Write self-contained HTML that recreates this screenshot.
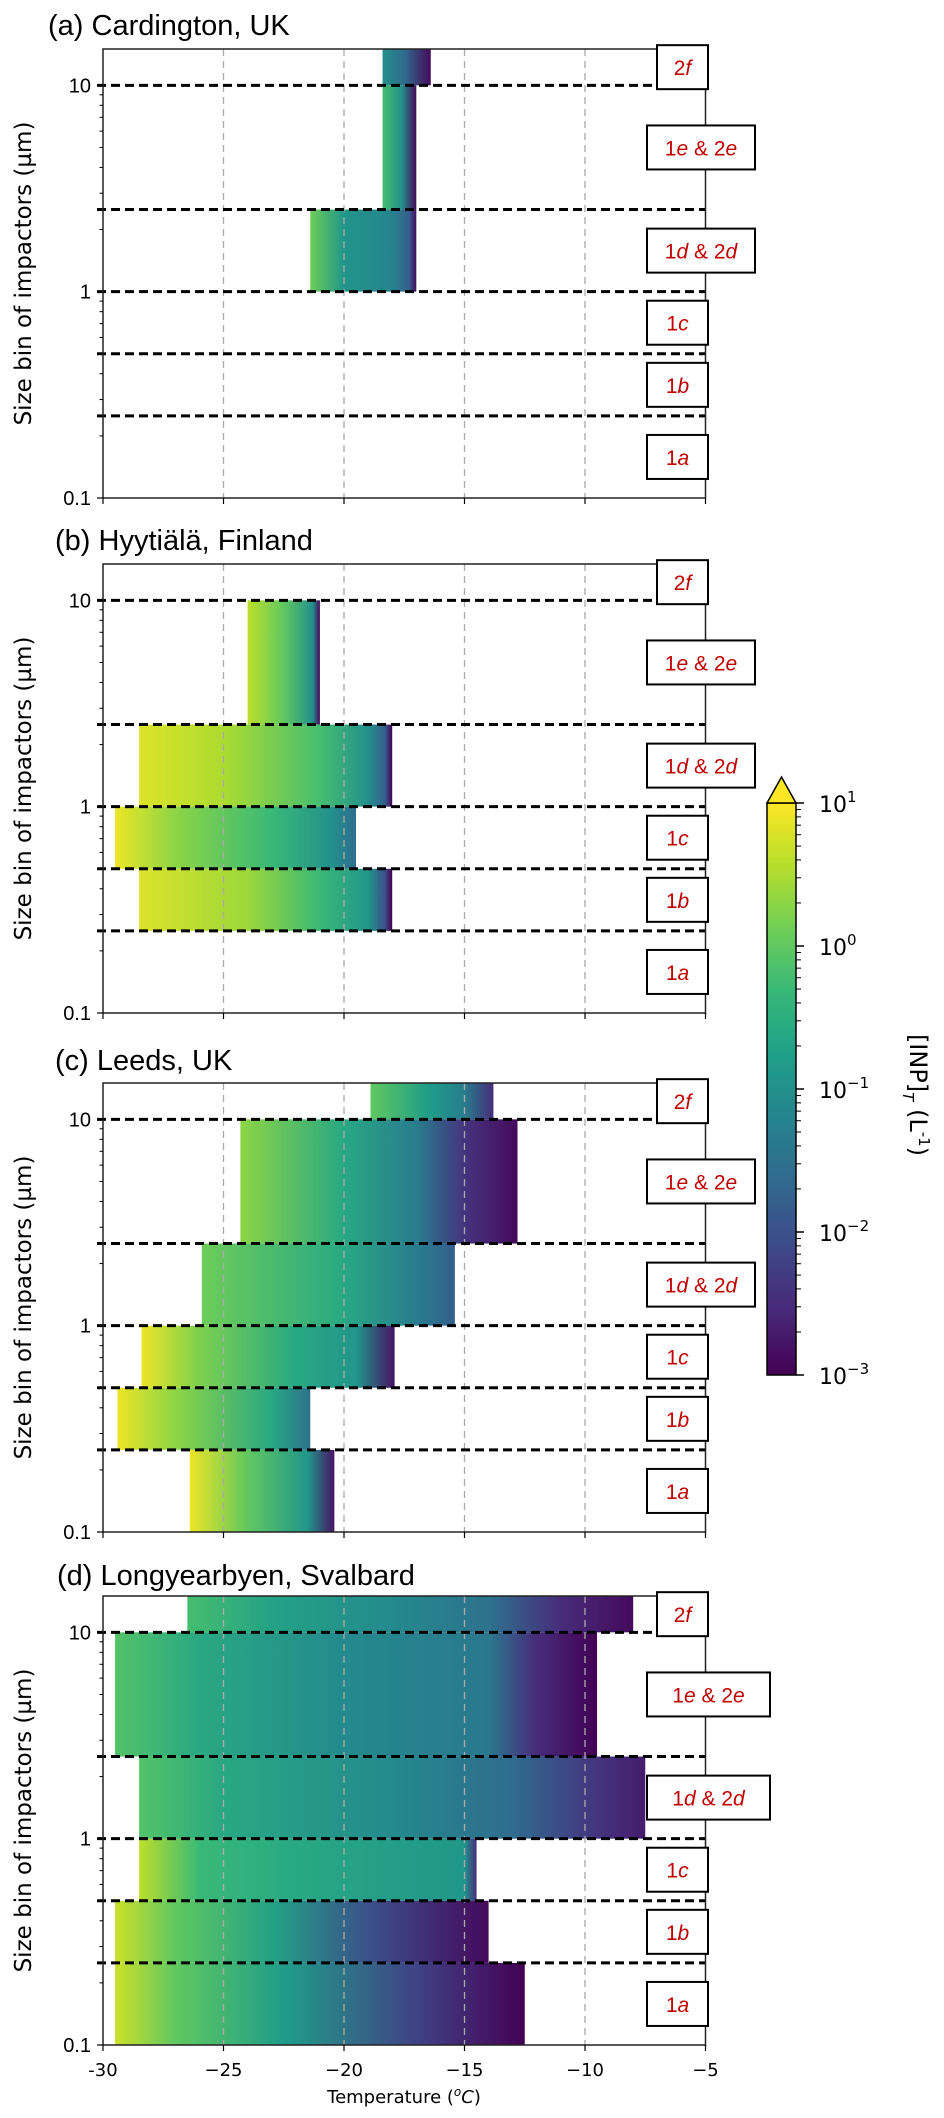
<!DOCTYPE html>
<html><head><meta charset="utf-8">
<style>
html,body{margin:0;padding:0;background:#fff;}
svg{display:block;font-family:"DejaVu Sans","Liberation Sans",sans-serif;}
</style></head>
<body>
<svg id="fig" width="944" height="2118" viewBox="0 0 944 2118" xmlns="http://www.w3.org/2000/svg">
<defs id="defs"></defs>
</svg>
<script>
// ---- data ----
const binNames = ['1a','1b','1c','1d','1e','2f'];
const binLower = [0.1,0.25,0.5,1,2.5,10];
const binUpper = [0.25,0.5,1,2.5,10,15];
const binLabels = ['1<i>a</i>','1<i>b</i>','1<i>c</i>','1<i>d</i> &amp; 2<i>d</i>','1<i>e</i> &amp; 2<i>e</i>','2<i>f</i>'];
const xTicks = [-30,-25,-20,-15,-10,-5];
const xTickLabels = ['-30','\u221225','\u221220','\u221215','\u221210','\u22125'];
const cbTicks = [-3,-2,-1,0,1];
const cbTickLabels = ['\u22123','\u22122','\u22121','0','1'];
const panelTitles = ['(a) Cardington, UK','(b) Hyytiälä, Finland','(c) Leeds, UK','(d) Longyearbyen, Svalbard'];
// bars: temperatures (°C) and log10 concentration at those temperatures
const barsA = [
 {bin:'2f', t:[-18.4,-17.5,-16.4], c:[-1.0,-1.6,-2.9]},
 {bin:'1e', t:[-18.4,-17.6,-17.0], c:[-0.2,-1.0,-2.9]},
 {bin:'1d', t:[-21.4,-20.0,-18.0,-17.3,-17.0], c:[0.1,-0.9,-1.2,-1.8,-2.9]}
];
const barsB = [
 {bin:'1e', t:[-24,-22.5,-21.3,-21.0], c:[0.6,0,-1,-2.9]},
 {bin:'1d', t:[-28.5,-25,-21,-19,-18.3,-18], c:[0.8,0.5,-0.2,-1,-1.8,-3]},
 {bin:'1c', t:[-29.5,-27,-23,-20.5,-19.5], c:[0.9,0.3,-0.3,-1,-1.6]},
 {bin:'1b', t:[-28.5,-24,-21,-19,-18.3,-18], c:[0.8,0.4,-0.3,-0.9,-2,-3]}
];
const barsC = [
 {bin:'2f', t:[-18.9,-16.5,-15,-13.8], c:[0,-0.8,-1.3,-2.5]},
 {bin:'1e', t:[-24.3,-20,-17,-15,-12.8], c:[0.3,-0.6,-1.3,-2.4,-2.9]},
 {bin:'1d', t:[-25.9,-20,-17,-15.4], c:[0.1,-0.6,-1.3,-1.8]},
 {bin:'1c', t:[-28.4,-26,-22,-19.5,-17.9], c:[0.9,0.2,-0.6,-0.9,-2.8]},
 {bin:'1b', t:[-29.4,-27,-23,-21.4], c:[0.9,0.3,-0.6,-1.5]},
 {bin:'1a', t:[-26.4,-24,-21.5,-20.4], c:[0.9,0,-0.9,-2.8]}
];
const barsD = [
 {bin:'2f', t:[-26.5,-23,-18,-14,-11,-8], c:[-0.2,-0.7,-1.1,-1.5,-2.5,-2.9]},
 {bin:'1e', t:[-29.5,-26,-20,-14,-12,-9.5], c:[-0.1,-0.6,-1.1,-1.4,-2.5,-3]},
 {bin:'1d', t:[-28.5,-25,-18,-13,-10,-7.5], c:[-0.1,-0.6,-1.1,-1.6,-2.3,-2.7]},
 {bin:'1c', t:[-28.5,-26,-22,-15,-14.5], c:[0.6,-0.3,-0.6,-0.9,-2.5]},
 {bin:'1b', t:[-29.5,-27,-23,-19,-14], c:[0.7,0,-0.7,-2,-2.9]},
 {bin:'1a', t:[-29.5,-27,-22.5,-17,-12.5], c:[0.7,0,-0.8,-2.2,-3]}
];
const allBars = [barsA,barsB,barsC,barsD];

// ---- layout ----
const NS='http://www.w3.org/2000/svg';
const svg=document.getElementById('fig');
const defs=document.getElementById('defs');
const X0=103, X1=705.5, TMIN=-30, TMAX=-5;
const panelTops=[49,564,1083,1596];
const PH=449;
const titleY=[35,550,1070,1585];
const titleX=[48,55,55,57];
const boxWide=[[647,755],[647,755],[647,755],[647,770]];
function xs(t){return X0+(t-TMIN)/(TMAX-TMIN)*(X1-X0);}
function ysFactory(top){const bot=top+PH;const lo=Math.log10(0.1),hi=Math.log10(15);return v=>bot-(Math.log10(v)-lo)/(hi-lo)*PH;}
const VIR=['#440154','#482878','#3e4989','#31688e','#26828e','#1f9e89','#35b779','#6ece58','#b5de2b','#fde725'];
function hex(h){return [1,3,5].map(i=>parseInt(h.substr(i,2),16));}
function viridis(f){f=Math.max(0,Math.min(1,f));const p=f*(VIR.length-1);const i=Math.min(VIR.length-2,Math.floor(p));const r=p-i;const a=hex(VIR[i]),b=hex(VIR[i+1]);return 'rgb('+a.map((v,k)=>Math.round(v+(b[k]-v)*r)).join(',')+')';}
function cnorm(lc){return (lc+3)/4;}
function el(tag,attrs,parent){const e=document.createElementNS(NS,tag);for(const k in attrs)e.setAttribute(k,attrs[k]);(parent||svg).appendChild(e);return e;}
let gid=0;

for(let p=0;p<4;p++){
  const top=panelTops[p], bot=top+PH, ys=ysFactory(top);
  const g=el('g',{});
  
  
  const tt=el('text',{x:titleX[p],y:titleY[p],'font-size':29,fill:'#000','font-family':'"Liberation Sans Narrow","Liberation Sans",sans-serif'},g);
  tt.textContent=panelTitles[p];
  
  
  allBars[p].forEach(b=>{
    const bi=binNames.indexOf(b.bin);
    const id='gr'+(gid++);
    const lg=el('linearGradient',{id:id,x1:0,x2:1,y1:0,y2:0},defs);
    const t0=b.t[0], t1=b.t[b.t.length-1];
    b.t.forEach((t,k)=>{el('stop',{offset:((t-t0)/(t1-t0)),'stop-color':viridis(cnorm(b.c[k]))},lg);});
    const r=el('rect',{x:xs(t0),y:ys(binUpper[bi]),width:xs(t1)-xs(t0),height:ys(binLower[bi])-ys(binUpper[bi]),fill:'url(#'+id+')'},g);
    
    
  });
  xTicks.slice(1,5).forEach(t=>{
    const l=el('line',{x1:xs(t),x2:xs(t),y1:top,y2:bot,stroke:'#aaa','stroke-width':1.3,'stroke-dasharray':'7,5'},g);
    
    
  });
  [10,2.5,1,0.5,0.25].forEach(v=>{
    const l=el('line',{x1:X0-6,x2:X1,y1:ys(v),y2:ys(v),stroke:'#000','stroke-width':3,'stroke-dasharray':'9,5'},g);
    
    
  });
  const fr=el('rect',{x:X0,y:top,width:X1-X0,height:PH,fill:'none',stroke:'#222','stroke-width':1.5},g);
  
  
  [0.1,1,10].forEach(v=>{
    el('line',{x1:X0-6,x2:X0,y1:ys(v),y2:ys(v),stroke:'#000','stroke-width':1.2},g);
    const tx=el('text',{x:X0-12,y:ys(v)+7,'font-size':20,'text-anchor':'end','font-family':'"Liberation Sans Narrow","Liberation Sans",sans-serif'},g);
    tx.textContent=String(v);
    
    
  });
  [0.2,0.3,0.4,0.5,0.6,0.7,0.8,0.9,2,3,4,5,6,7,8,9].forEach(v=>{el('line',{x1:X0-3.5,x2:X0,y1:ys(v),y2:ys(v),stroke:'#000','stroke-width':1},g);});
  xTicks.forEach((t,k)=>{
    el('line',{x1:xs(t),x2:xs(t),y1:bot,y2:bot+6,stroke:'#000','stroke-width':1.2},g);
    if(p===3){
      const tx=el('text',{x:xs(t),y:bot+31,'font-size':18,'text-anchor':'middle'},g);
      tx.textContent=xTickLabels[k];
      
      
    }
  });
  const yt=el('text',{x:0,y:0,'font-size':23,'text-anchor':'middle',transform:'translate(31,'+(top+PH/2)+') rotate(-90)'},g);
  yt.textContent='Size bin of impactors (\u00b5m)';
  
  
  binNames.forEach((bn,k)=>{
    const cy=(ys(binLower[k])+ys(binUpper[k]))/2;
    let xa=647,xb=708;
    if(bn==='2f'){xa=657;xb=708;}
    if(bn==='1d'||bn==='1e'){xa=boxWide[p][0];xb=boxWide[p][1];}
    const bx=el('rect',{x:xa,y:cy-22,width:xb-xa,height:44,fill:'#fff',stroke:'#000','stroke-width':2},g);
    
    
    const tx=el('text',{x:(xa+xb)/2,y:cy+8,'font-size':21,'text-anchor':'middle',fill:'#c00000','font-family':'"Liberation Sans Narrow","Liberation Sans",sans-serif'},g);
    tx.innerHTML=binLabels[k].replace(/<i>/g,'<tspan font-style="italic">').replace(/<\/i>/g,'</tspan>');
    
    
  });
}
const xt=el('text',{x:404,y:2103,'font-size':18,'text-anchor':'middle'});
xt.innerHTML='Temperature (<tspan baseline-shift="super" font-size="12" font-style="italic">o</tspan><tspan font-style="italic">C</tspan>)';



// colorbar
const CBX0=767, CBX1=796, CBTOP=803, CBBOT=1375;
function cby(lc){return CBBOT-(lc+3)/4*(CBBOT-CBTOP);}
const cg=el('linearGradient',{id:'cbgrad',x1:0,x2:0,y1:1,y2:0},defs);
VIR.forEach((c,k)=>el('stop',{offset:k/(VIR.length-1),'stop-color':c},cg));
const cb=el('g',{});


el('rect',{x:CBX0,y:CBTOP,width:CBX1-CBX0,height:CBBOT-CBTOP,fill:'url(#cbgrad)',stroke:'#000','stroke-width':1.5},cb);
el('path',{d:'M'+CBX0+','+CBTOP+' L'+((CBX0+CBX1)/2)+',777 L'+CBX1+','+CBTOP+' Z',fill:'#fde725',stroke:'#000','stroke-width':1.5},cb);
cbTicks.forEach((lc,k)=>{
  el('line',{x1:CBX1,x2:CBX1+8,y1:cby(lc),y2:cby(lc),stroke:'#000','stroke-width':1.5},cb);
  const tx=el('text',{x:CBX1+23,y:cby(lc)+9,'font-size':22},cb);
  tx.innerHTML='10<tspan dy="-10" font-size="15">'+cbTickLabels[k]+'</tspan>';
  
  
  if(lc<1){for(let m=2;m<=9;m++){const y=cby(lc+Math.log10(m));el('line',{x1:CBX1,x2:CBX1+5,y1:y,y2:y,stroke:'#000','stroke-width':1},cb);}}
});
const cl=el('text',{x:0,y:0,'font-size':24,'text-anchor':'middle',transform:'translate(910,1095) rotate(90)'},cb);
cl.innerHTML='[INP]<tspan dy="7" font-size="15" font-style="italic">T</tspan><tspan dy="-7"> (L</tspan><tspan dy="-9" font-size="15">-1</tspan><tspan dy="9">)</tspan>';


</script>
</body></html>
